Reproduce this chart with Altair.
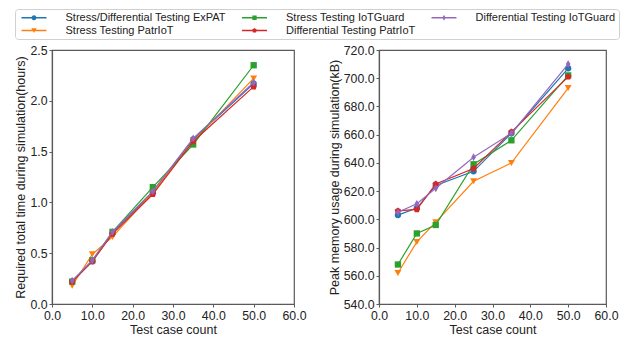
import altair as alt
import pandas as pd

x_vals = [5, 10, 15, 25, 35, 50]

series = [
    "Stress/Differential Testing ExPAT",
    "Stress Testing PatrIoT",
    "Stress Testing IoTGuard",
    "Differential Testing PatrIoT",
    "Differential Testing IoTGuard",
]
colors = ["#1f77b4", "#ff7f0e", "#2ca02c", "#d62728", "#9467bd"]

# plot markers (vega symbol shapes / unit paths)
markers = [
    "circle",
    "triangle-down",
    "square",
    "M0,-1L0.951,-0.309L0.588,0.809L-0.588,0.809L-0.951,-0.309Z",
    "M0,-1L0.6,0L0,1L-0.6,0Z",
]
marker_sizes = [40, 48, 40, 48, 60]

# legend handles: short line with the marker in the middle (unit = 5px at size 100)
bar = "M-2.5,-0.13L2.5,-0.13L2.5,0.13L-2.5,0.13Z"
legend_handles = [
    bar + "M0.5,0A0.5,0.5 0 1,1 -0.5,0A0.5,0.5 0 1,1 0.5,0Z",
    bar + "M-0.55,-0.45L0.55,-0.45L0,0.5Z",
    bar + "M-0.43,-0.43L0.43,-0.43L0.43,0.43L-0.43,0.43Z",
    bar + "M0,-0.52L0.5,-0.16L0.31,0.42L-0.31,0.42L-0.5,-0.16Z",
    bar + "M0,-0.6L0.3,0L0,0.6L-0.3,0Z",
]

time_expat = [0.22, 0.42, 0.70, 1.10, 1.62, 2.17]
time_stress_patriot = [0.18, 0.49, 0.66, 1.10, 1.60, 2.22]
time_stress_iotguard = [0.22, 0.43, 0.71, 1.15, 1.57, 2.35]
time_diff_patriot = [0.22, 0.42, 0.69, 1.08, 1.60, 2.14]
time_diff_iotguard = [0.23, 0.43, 0.71, 1.11, 1.63, 2.18]

mem_expat = [603, 608, 624, 634, 661, 707]
mem_stress_patriot = [562, 584, 598, 627, 640, 693]
mem_stress_iotguard = [568, 590, 596, 639, 656, 702]
mem_diff_patriot = [606, 607, 625, 636, 662, 701]
mem_diff_iotguard = [605, 611, 622, 644, 661, 710]

time_data = [time_expat, time_stress_patriot, time_stress_iotguard, time_diff_patriot, time_diff_iotguard]
mem_data = [mem_expat, mem_stress_patriot, mem_stress_iotguard, mem_diff_patriot, mem_diff_iotguard]

x_ticks = [0, 10, 20, 30, 40, 50, 60]
time_ticks = [0, 0.5, 1.0, 1.5, 2.0, 2.5]
mem_ticks = [540, 560, 580, 600, 620, 640, 660, 680, 700, 720]

rows = []
for i, s in enumerate(series):
    for j, x in enumerate(x_vals):
        rows.append({"series": s, "idx": i, "x": x, "time": time_data[i][j], "mem": mem_data[i][j]})
df = pd.DataFrame(rows)

legend = alt.Legend(
    title=None, orient="none", columns=3, legendX=-37, legendY=-41,
    strokeColor="#d0d0d0", cornerRadius=3, fillColor="white",
    padding=3, columnPadding=12.5, rowPadding=1,
    labelFontSize=11, labelFont="Liberation Sans", labelColor="#222222",
    labelLimit=400, labelOffset=26, symbolSize=100, symbolOffset=10.5,
    symbolStrokeWidth=0, symbolOpacity=1,
)
color_enc = alt.Color("series:N", scale=alt.Scale(domain=series, range=colors), legend=legend)

x_enc = alt.X("x:Q", scale=alt.Scale(domain=[0, 60], nice=False),
              axis=alt.Axis(values=x_ticks, format=".1f", title="Test case count",
                            labelFlush=False, labelOverlap=False))


def panel(field, domain, ticks, title, width, with_legend):
    y_enc = alt.Y(f"{field}:Q", scale=alt.Scale(domain=domain, nice=False, zero=False),
                  axis=alt.Axis(values=ticks, format=".1f", title=title,
                                labelFlush=False, labelOverlap=False))
    base = alt.Chart(df).encode(x=x_enc, y=y_enc, color=color_enc)
    layers = []
    for i, s in enumerate(series):
        sub = base.transform_filter(alt.datum.idx == i)
        layers.append(sub.mark_line(strokeWidth=1.2))
        layers.append(sub.mark_point(filled=True, opacity=1, shape=markers[i], size=marker_sizes[i]))
    if with_legend:
        leg = base.transform_filter("false").mark_point(filled=True, opacity=1).encode(
            shape=alt.Shape("series:N", scale=alt.Scale(domain=series, range=legend_handles), legend=legend)
        )
        layers.append(leg)
    return alt.layer(*layers).properties(width=width, height=254)


left = panel("time", [0, 2.5], time_ticks, "Required total time during simulation(hours)", 242, True)
right = panel("mem", [540, 720], mem_ticks, "Peak memory usage during simulation(kB)", 227, False)

chart = alt.hconcat(left, right, spacing=20).properties(
    padding={"left": 6, "top": 0, "right": 0, "bottom": 0}
).configure_view(
    stroke="#5a5a5a", strokeWidth=1.2
).configure_axis(
    labelFont="Liberation Sans", titleFont="Liberation Sans",
    labelFontSize=12.3, titleFontSize=12.5, labelColor="#222222", titleColor="#222222",
    titleFontWeight="normal", grid=False, domainColor="#5a5a5a", domainWidth=1.2,
    tickColor="#5a5a5a", tickSize=3, tickWidth=1, labelPadding=2, titlePadding=2
)

chart.save("out.html", embed_options={"renderer": "svg", "actions": False})
